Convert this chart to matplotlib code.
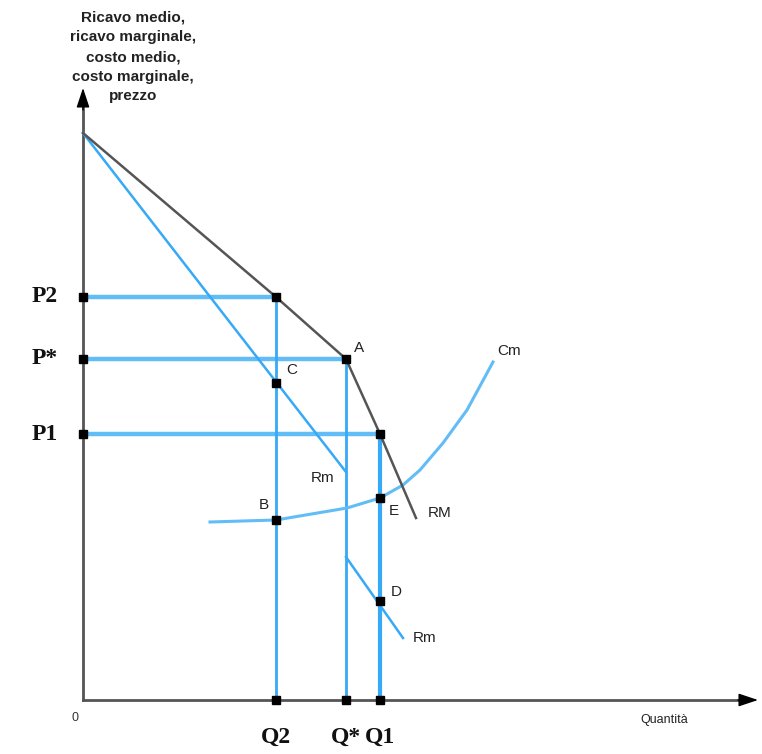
import numpy as np
import matplotlib.pyplot as plt

# Data (quantity / price units, origin at the axes corner) ------------------
q_levels = {"Q2": 193, "Q*": 263, "Q1": 297}
p_levels = {"P2": 403, "P*": 341, "P1": 266}

# kinked average revenue (RM)
rm_q = [0, 193, 263, 297, 333]
rm_p = [567, 403, 341, 266, 182]

# marginal revenue (Rm), two branches
rmg_upper_q = [0, 263]
rmg_upper_p = [567, 228]
rmg_lower_q = [263, 320]
rmg_lower_p = [143, 62]

# marginal cost (Cm)
cm_q = [127, 193, 264, 297, 320, 337, 360, 384, 410]
cm_p = [178, 180, 192, 202, 215, 230, 257, 290, 338]

# named points
pts_q = [193, 193, 297, 297]
pts_p = [317, 180, 202, 99]

blue = "#36a9f7"
light_blue = "#62bdf7"
axis_col = "#555555"

fig = plt.figure(figsize=(7.62, 7.54), dpi=100)
ax = fig.add_axes([0, 0, 1, 1])
ax.set_xlim(-83, 679)
ax.set_ylim(-54, 700)
ax.axis("off")

# axes with arrows
ax.plot([0, 0], [0, 595], color=axis_col, lw=2)
ax.plot([0, 660], [0, 0], color=axis_col, lw=2)
ax.annotate("", xy=(0, 612), xytext=(0, 590),
            arrowprops=dict(arrowstyle="-|>,head_length=1.2,head_width=0.4",
                            color="black", lw=1, shrinkA=0, shrinkB=0))
ax.annotate("", xy=(675, 0), xytext=(655, 0),
            arrowprops=dict(arrowstyle="-|>,head_length=1.2,head_width=0.4",
                            color="black", lw=1, shrinkA=0, shrinkB=0))

# guide lines
qs = list(q_levels.values())
ps = list(p_levels.values())
for i in range(3):
    ax.plot([0, qs[i]], [ps[i], ps[i]], color=light_blue, lw=3.2, solid_capstyle="butt")
ax.plot([qs[0], qs[0]], [0, ps[0]], color=blue, lw=2)
ax.plot([qs[1], qs[1]], [0, ps[1]], color=blue, lw=2)
ax.plot([qs[2], qs[2]], [0, ps[2]], color=blue, lw=3)

# curves
ax.plot(rmg_upper_q, rmg_upper_p, color=blue, lw=1.8)
ax.plot(rmg_lower_q, rmg_lower_p, color=blue, lw=1.8)
ax.plot(cm_q, cm_p, color=light_blue, lw=2.2)
ax.plot(rm_q, rm_p, color="#555555", lw=1.8)

# square markers
mk = dict(marker="s", ms=5.5, color="black", ls="none", zorder=5)
ax.plot([0, 0, 0], ps, **mk)
ax.plot(qs, ps, **mk)
ax.plot(qs, [0, 0, 0], **mk)
ax.plot(pts_q, pts_p, **mk)

# small labels
sf = dict(fontsize=11, color="#222222", family="Liberation Sans", ha="left", va="center")
ax.text(271, 352, "A", **sf)
ax.text(203, 330, "C", **sf)
ax.text(228, 222, "Rm", **sf)
ax.text(176, 195, "B", **sf)
ax.text(306, 189, "E", **sf)
ax.text(345, 187, "RM", **sf)
ax.text(308, 108, "D", **sf)
ax.text(330, 62, "Rm", **sf)
ax.text(414, 349, "Cm", **sf)
ax.text(-8, -18, "0", fontsize=9, color="#333333", family="Liberation Sans", ha="center", va="center")
ax.text(581, -20, "Quantità", fontsize=9, color="#222222", family="Liberation Sans", ha="center", va="center")

ax.text(50, 643, "Ricavo medio,\nricavo marginale,\ncosto medio,\ncosto marginale,\nprezzo",
        fontsize=11, fontweight="bold", family="Liberation Sans", ha="center", va="center",
        linespacing=1.5, color="#222222")

# level labels
bf = dict(fontsize=17, fontweight="bold", family="Liberation Serif", color="#111111", va="center")
for name, p in p_levels.items():
    ax.text(-38, p, name, ha="center", **bf)
for name, q in q_levels.items():
    ax.text(q, -37, name, ha="center", **bf)

fig.savefig("out.png", dpi=100)
